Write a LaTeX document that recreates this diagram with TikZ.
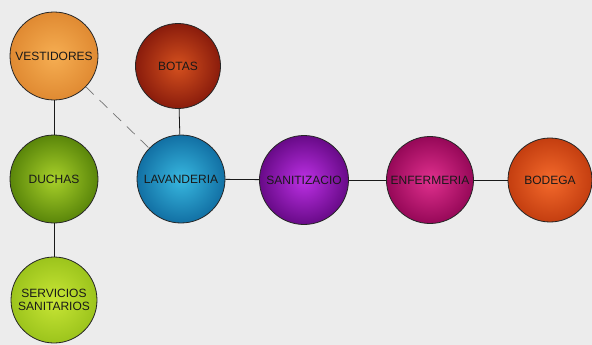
\documentclass[tikz,border=0pt]{standalone}
\usepackage{fontspec}
\setmainfont{Liberation Sans}
\usepackage{xcolor}
\usepackage{tikz}
\usetikzlibrary{positioning,calc}
\definecolor{bgray}{HTML}{ECECEC}
\definecolor{vestin}{HTML}{F6AE52}
\definecolor{vestout}{HTML}{E08A32}
\definecolor{botin}{HTML}{D4501E}
\definecolor{botout}{HTML}{8A1C0C}
\definecolor{duchin}{HTML}{A8D02A}
\definecolor{duchout}{HTML}{5A860A}
\definecolor{lavin}{HTML}{38B8E0}
\definecolor{lavout}{HTML}{1270A4}
\definecolor{sanin}{HTML}{BC30E4}
\definecolor{sanout}{HTML}{680A88}
\definecolor{enfin}{HTML}{E0308E}
\definecolor{enfout}{HTML}{960858}
\definecolor{bodin}{HTML}{F46A2C}
\definecolor{bodout}{HTML}{C43E10}
\definecolor{servin}{HTML}{C8E636}
\definecolor{servout}{HTML}{9CC41C}
\tikzset{
  roomball/.style 2 args={circle, draw=black!85, line width=0.8pt, inner sep=0pt, align=center,
    minimum size=88pt, shading=radial, inner color=#1, outer color=#2,
    text=black!90, font=\fontsize{12}{13}\selectfont},
  roomline/.style={draw=black!90, line width=0.8pt},
  roomdash/.style={draw=black!55, line width=0.7pt, dash pattern=on 11pt off 8pt}
}

\begin{document}
\begin{tikzpicture}[x=1pt, y=-1pt]
  \fill[bgray] (0,0) rectangle (592,345);
  \useasboundingbox (0,0) rectangle (592,345);
  \node[roomball={vestin}{vestout}] (vest) at (54,56) {VESTIDORES};
  \node[roomball={botin}{botout}, minimum size=85pt] (botas) at (178,66) {BOTAS};
  \node[roomball={duchin}{duchout}] (duchas) at (54,179) {DUCHAS};
  \node[roomball={lavin}{lavout}] (lava) at (181,179) {LAVANDERIA};
  \node[roomball={sanin}{sanout}, minimum size=89pt] (sani) at (304,180) {SANITIZACIO};
  \node[roomball={enfin}{enfout}, minimum size=87pt] (enfer) at (430,180) {ENFERMERIA};
  \node[roomball={bodin}{bodout}, minimum size=84pt] (bodega) at (550,180) {BODEGA};
  \node[roomball={servin}{servout}, minimum size=86pt] (serv) at (54,300) {SERVICIOS\\SANITARIOS};
  \draw[roomline] (vest) -- (duchas);
  \draw[roomline] (duchas) -- (serv);
  \draw[roomline] (botas) -- (lava);
  \draw[roomline] (lava) -- (sani);
  \draw[roomline] (sani) -- (enfer);
  \draw[roomline] (enfer) -- (bodega);
  \draw[roomdash] (vest) -- (lava);
\end{tikzpicture}
\end{document}
